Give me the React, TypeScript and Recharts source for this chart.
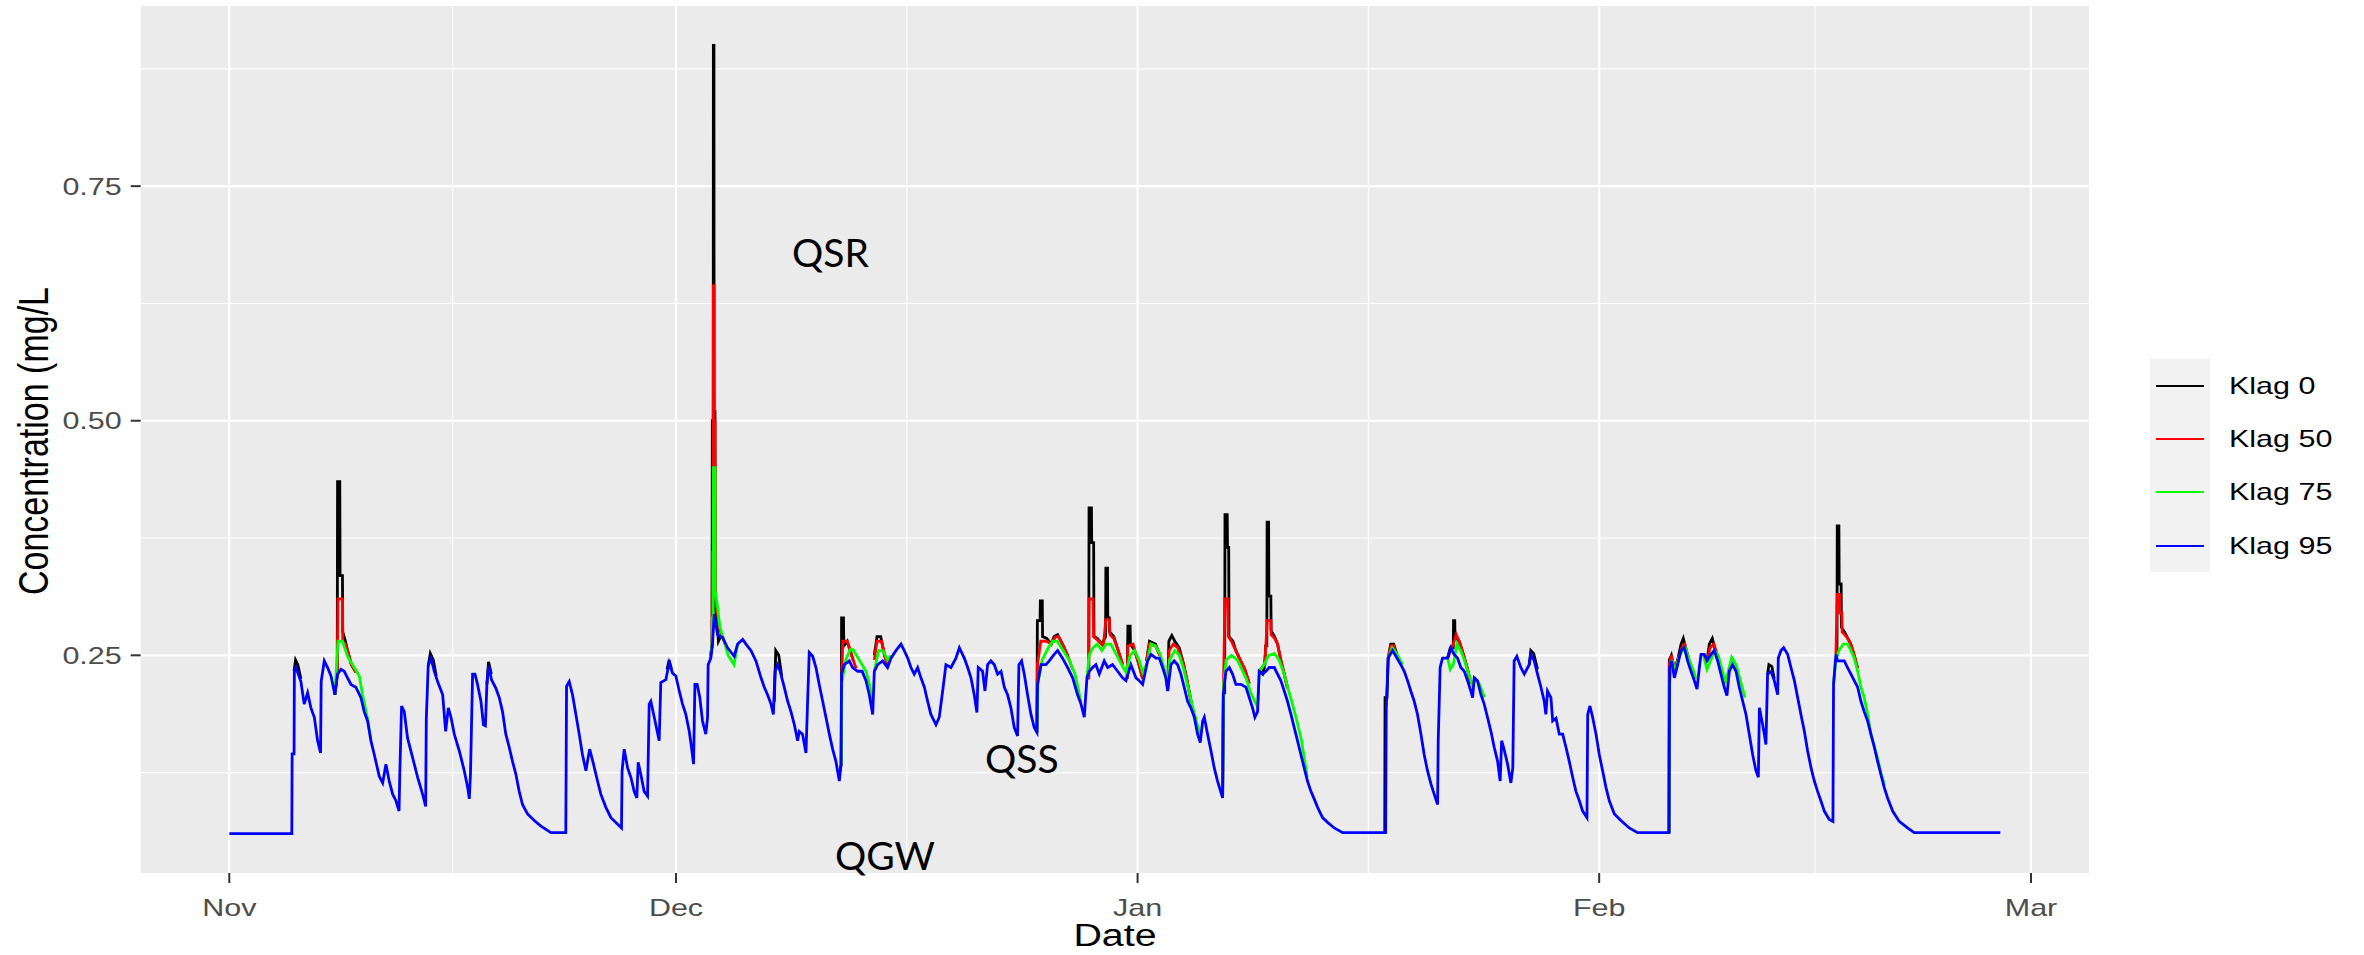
import React from "react";
import {
  LineChart,
  Line,
  XAxis,
  YAxis,
  CartesianGrid,
  Legend,
} from "recharts";

// x = days since 1 Nov, y = concentration (mg/L)
const klag95: [number, number][] = [
  [0, 0.06], [4.2, 0.06], [4.22, 0.145], [4.35, 0.145], [4.37, 0.233], [4.47, 0.237], [4.81, 0.222], [5.03, 0.198],
  [5.26, 0.21], [5.48, 0.194], [5.71, 0.184], [5.93, 0.159], [6.13, 0.146], [6.17, 0.222], [6.38, 0.244], [6.6, 0.237],
  [6.83, 0.228], [7.09, 0.208], [7.27, 0.23], [7.5, 0.235], [7.72, 0.233], [7.94, 0.226], [8.17, 0.219], [8.5, 0.216],
  [8.84, 0.205], [9.06, 0.19], [9.29, 0.18], [9.51, 0.159], [9.74, 0.144], [10.07, 0.121], [10.3, 0.114], [10.52, 0.134],
  [10.74, 0.116], [10.97, 0.102], [11.19, 0.095], [11.4, 0.084], [11.45, 0.123], [11.57, 0.196], [11.75, 0.19], [11.97, 0.162],
  [12.31, 0.141], [12.65, 0.12], [12.98, 0.102], [13.19, 0.089], [13.23, 0.182], [13.36, 0.239], [13.54, 0.247], [13.77, 0.233],
  [13.99, 0.222], [14.33, 0.208], [14.53, 0.169], [14.71, 0.194], [14.89, 0.184], [15.11, 0.166], [15.45, 0.148], [15.78, 0.127],
  [16.01, 0.109], [16.12, 0.097], [16.2, 0.125], [16.34, 0.23], [16.5, 0.23], [16.67, 0.219], [16.9, 0.201], [17.07, 0.176],
  [17.2, 0.175], [17.3, 0.219], [17.41, 0.239], [17.61, 0.224], [17.9, 0.215], [18.13, 0.205], [18.35, 0.19], [18.57, 0.166],
  [18.8, 0.152], [19.02, 0.137], [19.25, 0.123], [19.47, 0.105], [19.69, 0.091], [20.03, 0.081], [20.48, 0.074], [20.93, 0.068],
  [21.6, 0.061], [22.6, 0.061], [22.65, 0.217], [22.83, 0.222], [23.05, 0.208], [23.2, 0.194], [23.5, 0.166], [23.72, 0.144],
  [23.95, 0.127], [24.2, 0.15], [24.46, 0.134], [24.73, 0.116], [24.95, 0.102], [25.29, 0.088], [25.63, 0.077], [26.34, 0.066],
  [26.38, 0.127], [26.52, 0.15], [26.75, 0.13], [26.97, 0.12], [27.19, 0.105], [27.37, 0.098], [27.46, 0.136], [27.64, 0.123],
  [27.86, 0.105], [28.09, 0.1], [28.2, 0.198], [28.31, 0.201], [28.54, 0.184], [28.87, 0.159], [28.98, 0.221], [29.32, 0.224],
  [29.54, 0.242], [29.77, 0.231], [29.99, 0.228], [30.22, 0.212], [30.44, 0.198], [30.66, 0.187], [30.89, 0.169], [31.04, 0.152],
  [31.18, 0.134], [31.27, 0.219], [31.42, 0.219], [31.6, 0.205], [31.78, 0.18], [32.0, 0.166], [32.12, 0.184], [32.16, 0.24],
  [32.34, 0.247], [32.45, 0.262], [32.57, 0.294], [32.79, 0.272], [33.13, 0.269], [33.46, 0.258], [33.91, 0.249], [34.14, 0.262],
  [34.48, 0.267], [34.7, 0.262], [35.04, 0.255], [35.37, 0.244], [35.71, 0.226], [35.93, 0.216], [36.15, 0.208], [36.38, 0.198],
  [36.54, 0.187], [36.65, 0.233], [36.83, 0.24], [36.99, 0.233], [37.27, 0.216], [37.5, 0.201], [37.72, 0.19], [37.95, 0.176],
  [38.17, 0.159], [38.28, 0.169], [38.5, 0.166], [38.73, 0.146], [38.84, 0.201], [38.95, 0.253], [39.18, 0.249], [39.4, 0.237],
  [39.62, 0.219], [39.85, 0.201], [40.07, 0.184], [40.3, 0.166], [40.52, 0.15], [40.74, 0.137], [40.97, 0.116], [41.08, 0.134],
  [41.12, 0.23], [41.3, 0.24], [41.64, 0.244], [41.86, 0.237], [42.2, 0.233], [42.5, 0.233], [42.76, 0.223], [42.98, 0.208],
  [43.21, 0.187], [43.32, 0.233], [43.54, 0.24], [43.88, 0.244], [44.21, 0.237], [44.44, 0.247], [44.77, 0.255], [45.11, 0.262],
  [45.33, 0.255], [45.56, 0.247], [45.78, 0.237], [46.0, 0.23], [46.23, 0.237], [46.45, 0.226], [46.68, 0.216], [46.9, 0.201],
  [47.12, 0.187], [47.46, 0.176], [47.68, 0.184], [47.91, 0.212], [48.13, 0.24], [48.47, 0.237], [48.8, 0.247], [49.03, 0.258],
  [49.36, 0.247], [49.59, 0.237], [49.81, 0.226], [50.03, 0.208], [50.21, 0.189], [50.3, 0.237], [50.59, 0.233], [50.75, 0.212],
  [50.93, 0.24], [51.15, 0.244], [51.38, 0.24], [51.6, 0.23], [51.83, 0.233], [52.05, 0.216], [52.27, 0.208], [52.49, 0.194],
  [52.72, 0.173], [52.94, 0.164], [53.03, 0.24], [53.21, 0.244], [53.39, 0.23], [53.61, 0.208], [53.84, 0.187], [54.06, 0.173],
  [54.24, 0.168], [54.28, 0.219], [54.51, 0.24], [54.84, 0.24], [55.07, 0.244], [55.4, 0.251], [55.63, 0.255], [55.96, 0.247],
  [56.3, 0.237], [56.64, 0.226], [56.97, 0.208], [57.2, 0.198], [57.42, 0.184], [57.6, 0.226], [57.75, 0.233], [57.98, 0.237],
  [58.2, 0.24], [58.43, 0.23], [58.76, 0.244], [58.99, 0.237], [59.32, 0.24], [59.66, 0.233], [59.99, 0.226], [60.22, 0.223],
  [60.55, 0.24], [60.89, 0.226], [61.11, 0.223], [61.34, 0.219], [61.67, 0.244], [61.9, 0.251], [62.23, 0.247], [62.46, 0.247],
  [62.68, 0.237], [62.9, 0.226], [63.02, 0.212], [63.24, 0.24], [63.46, 0.244], [63.69, 0.24], [63.91, 0.23], [64.13, 0.216],
  [64.36, 0.201], [64.58, 0.194], [64.81, 0.184], [65.03, 0.166], [65.21, 0.157], [65.37, 0.18], [65.48, 0.184], [65.7, 0.166],
  [65.93, 0.148], [66.15, 0.13], [66.37, 0.116], [66.71, 0.098], [66.76, 0.208], [66.93, 0.233], [67.16, 0.237], [67.38, 0.23],
  [67.6, 0.219], [67.94, 0.219], [68.28, 0.216], [68.5, 0.205], [68.72, 0.194], [68.88, 0.184], [69.06, 0.19], [69.17, 0.233],
  [69.4, 0.23], [69.62, 0.233], [69.84, 0.237], [70.18, 0.237], [70.4, 0.23], [70.62, 0.223], [70.85, 0.212], [71.07, 0.201],
  [71.3, 0.187], [71.52, 0.173], [71.74, 0.159], [71.97, 0.144], [72.19, 0.13], [72.41, 0.116], [72.64, 0.105], [72.86, 0.097],
  [73.09, 0.088], [73.42, 0.077], [73.76, 0.072], [74.21, 0.066], [74.77, 0.061], [77.66, 0.061], [77.7, 0.194], [77.83, 0.247],
  [78.12, 0.255], [78.35, 0.249], [78.68, 0.24], [78.91, 0.233], [79.13, 0.223], [79.35, 0.212], [79.58, 0.201], [79.8, 0.187],
  [80.03, 0.166], [80.25, 0.144], [80.47, 0.127], [80.7, 0.113], [80.92, 0.102], [81.15, 0.091], [81.19, 0.159], [81.32, 0.237],
  [81.48, 0.247], [81.82, 0.247], [82.04, 0.258], [82.26, 0.251], [82.49, 0.247], [82.71, 0.237], [82.94, 0.233], [83.16, 0.223],
  [83.38, 0.212], [83.5, 0.205], [83.61, 0.226], [83.83, 0.223], [84.06, 0.208], [84.28, 0.198], [84.5, 0.184], [84.73, 0.169],
  [84.95, 0.152], [85.18, 0.137], [85.35, 0.116], [85.45, 0.159], [85.58, 0.152], [85.85, 0.134], [86.07, 0.114], [86.2, 0.13],
  [86.29, 0.244], [86.47, 0.249], [86.74, 0.237], [86.97, 0.23], [87.3, 0.24], [87.41, 0.251], [87.64, 0.244], [87.86, 0.23],
  [88.09, 0.216], [88.31, 0.201], [88.42, 0.187], [88.53, 0.212], [88.76, 0.205], [88.88, 0.18], [89.1, 0.183], [89.32, 0.166],
  [89.55, 0.166], [89.77, 0.152], [89.99, 0.137], [90.22, 0.12], [90.44, 0.105], [90.67, 0.095], [90.89, 0.084], [91.18, 0.077],
  [91.23, 0.187], [91.38, 0.196], [91.56, 0.184], [91.79, 0.166], [92.01, 0.144], [92.23, 0.127], [92.46, 0.109], [92.68, 0.095],
  [93.02, 0.081], [93.46, 0.074], [94.02, 0.066], [94.58, 0.061], [96.69, 0.061], [96.73, 0.237], [96.87, 0.244], [97.05, 0.226],
  [97.27, 0.24], [97.49, 0.255], [97.72, 0.258], [97.94, 0.244], [98.17, 0.233], [98.39, 0.223], [98.57, 0.214], [98.73, 0.237],
  [98.84, 0.251], [99.06, 0.251], [99.24, 0.244], [99.51, 0.251], [99.73, 0.255], [99.96, 0.244], [100.18, 0.23], [100.4, 0.216],
  [100.58, 0.207], [100.74, 0.233], [100.96, 0.24], [101.19, 0.233], [101.41, 0.216], [101.64, 0.201], [101.86, 0.187], [102.08, 0.166],
  [102.31, 0.144], [102.53, 0.127], [102.69, 0.12], [102.76, 0.194], [102.98, 0.176], [103.09, 0.166], [103.2, 0.155], [103.31, 0.23],
  [103.54, 0.233], [103.76, 0.223], [103.99, 0.208], [104.03, 0.247], [104.21, 0.255], [104.39, 0.258], [104.66, 0.251], [104.88, 0.237],
  [105.11, 0.223], [105.33, 0.205], [105.55, 0.187], [105.78, 0.169], [106.0, 0.148], [106.23, 0.13], [106.45, 0.116], [106.67, 0.105],
  [106.89, 0.095], [107.12, 0.084], [107.45, 0.075], [107.7, 0.073], [107.74, 0.219], [107.9, 0.251], [108.01, 0.244], [108.46, 0.244],
  [108.68, 0.237], [108.91, 0.23], [109.13, 0.223], [109.36, 0.216], [109.58, 0.201], [109.8, 0.19], [110.03, 0.18], [110.25, 0.166],
  [110.48, 0.152], [110.7, 0.137], [110.92, 0.123], [111.15, 0.109], [111.37, 0.098], [111.71, 0.084], [112.15, 0.073], [112.71, 0.066],
  [113.16, 0.061], [118.94, 0.061],
];

// the other lags only leave Klag 95 around storm events
const klag75Events: [number, number][][] = [
  [[7.09, 0.208], [7.3, 0.265], [7.6, 0.265], [7.75, 0.258], [7.94, 0.249], [8.39, 0.237], [8.73, 0.228], [8.95, 0.208], [9.29, 0.182], [9.51, 0.16]],
  [[32.3, 0.247], [32.42, 0.26], [32.44, 0.29], [32.5, 0.29], [32.51, 0.45], [32.62, 0.45], [32.63, 0.32], [32.8, 0.3], [32.95, 0.28], [33.15, 0.27], [33.5, 0.25], [33.9, 0.24], [34.14, 0.262]],
  [[41.1, 0.134], [41.13, 0.22], [41.4, 0.245], [41.7, 0.256], [41.9, 0.256], [42.2, 0.248], [42.5, 0.24], [42.76, 0.233], [42.98, 0.22], [43.21, 0.2]],
  [[43.32, 0.233], [43.6, 0.255], [43.9, 0.255], [44.21, 0.245], [44.44, 0.25]],
  [[54.24, 0.168], [54.3, 0.22], [54.6, 0.245], [55.0, 0.258], [55.3, 0.265], [55.6, 0.265], [56.0, 0.255], [56.4, 0.245], [56.8, 0.23], [57.0, 0.215], [57.2, 0.2]],
  [[57.6, 0.226], [57.74, 0.25], [58.0, 0.258], [58.3, 0.262], [58.6, 0.255], [58.9, 0.262], [59.2, 0.262], [59.6, 0.25], [60.0, 0.238], [60.22, 0.232],
   [60.5, 0.25], [60.8, 0.255], [61.1, 0.245], [61.34, 0.232], [61.6, 0.24], [61.9, 0.262], [62.2, 0.26], [62.5, 0.252], [62.8, 0.235], [63.02, 0.215],
   [63.15, 0.245], [63.5, 0.255], [63.8, 0.25], [64.1, 0.235], [64.4, 0.215], [64.7, 0.195], [65.03, 0.175], [65.21, 0.165]],
  [[66.71, 0.098], [66.78, 0.22], [66.95, 0.245], [67.3, 0.25], [67.7, 0.245], [68.0, 0.235], [68.3, 0.225], [68.6, 0.21], [68.9, 0.2], [69.06, 0.195],
   [69.17, 0.233], [69.5, 0.24], [69.8, 0.25], [70.2, 0.252], [70.5, 0.245], [70.8, 0.232], [71.1, 0.215], [71.4, 0.198], [71.7, 0.18], [72.0, 0.16], [72.2, 0.14], [72.4, 0.12]],
  [[77.83, 0.247], [78.1, 0.258], [78.4, 0.252], [78.8, 0.24]],
  [[81.82, 0.247], [82.0, 0.235], [82.2, 0.24], [82.45, 0.262], [82.7, 0.255], [82.94, 0.245], [83.2, 0.232], [83.5, 0.218], [83.7, 0.225], [84.0, 0.218], [84.3, 0.205]],
  [[96.69, 0.061], [96.73, 0.22], [96.9, 0.245], [97.1, 0.232], [97.35, 0.248], [97.6, 0.255], [97.8, 0.258], [98.05, 0.245], [98.3, 0.235], [98.5, 0.225]],
  [[99.0, 0.25], [99.24, 0.235], [99.5, 0.245], [99.75, 0.255], [100.0, 0.25], [100.25, 0.235], [100.5, 0.22], [100.7, 0.235], [100.9, 0.248], [101.2, 0.24], [101.5, 0.222], [101.8, 0.205]],
  [[107.74, 0.219], [107.9, 0.245], [108.1, 0.255], [108.4, 0.262], [108.7, 0.262], [108.91, 0.255], [109.13, 0.247], [109.36, 0.233], [109.58, 0.216], [109.8, 0.205],
   [110.03, 0.187], [110.25, 0.166], [110.48, 0.153], [110.7, 0.14], [110.92, 0.125], [111.15, 0.112]],
];

const klag50Events: [number, number][][] = [
  [[7.09, 0.208], [7.25, 0.23], [7.3, 0.31], [7.6, 0.31], [7.62, 0.265], [7.8, 0.262], [8.0, 0.252], [8.2, 0.24], [8.5, 0.232]],
  [[32.3, 0.247], [32.42, 0.26], [32.44, 0.36], [32.5, 0.36], [32.51, 0.644], [32.55, 0.644], [32.56, 0.5], [32.62, 0.5], [32.63, 0.32], [32.75, 0.3], [32.9, 0.28], [33.1, 0.27], [33.3, 0.262]],
  [[41.1, 0.134], [41.12, 0.22], [41.2, 0.265], [41.5, 0.265], [41.7, 0.255], [41.9, 0.245], [42.1, 0.236]],
  [[43.32, 0.245], [43.5, 0.265], [43.8, 0.265], [44.1, 0.245], [44.3, 0.24]],
  [[54.24, 0.168], [54.27, 0.24], [54.5, 0.265], [54.9, 0.265], [55.2, 0.262], [55.5, 0.27], [55.7, 0.27], [56.0, 0.26], [56.3, 0.25], [56.64, 0.235]],
  [[57.6, 0.226], [57.72, 0.226], [57.74, 0.31], [58.0, 0.31], [58.05, 0.27], [58.4, 0.265], [58.7, 0.26], [58.87, 0.288], [59.1, 0.288], [59.15, 0.272], [59.4, 0.268], [59.7, 0.255], [60.0, 0.24]],
  [[60.3, 0.225], [60.35, 0.26], [60.7, 0.262], [61.0, 0.245], [61.34, 0.225]],
  [[61.6, 0.244], [61.8, 0.262], [62.2, 0.26], [62.5, 0.25]],
  [[63.02, 0.212], [63.12, 0.255], [63.4, 0.262], [63.7, 0.258], [64.0, 0.245], [64.3, 0.225], [64.6, 0.2]],
  [[66.71, 0.098], [66.76, 0.21], [66.87, 0.31], [67.05, 0.31], [67.1, 0.27], [67.3, 0.265], [67.6, 0.255], [67.9, 0.245], [68.2, 0.235], [68.5, 0.22]],
  [[69.17, 0.233], [69.5, 0.24], [69.6, 0.255], [69.7, 0.287], [69.95, 0.287], [69.97, 0.272], [70.2, 0.268], [70.4, 0.262], [70.62, 0.245], [70.85, 0.23], [71.07, 0.215]],
  [[77.83, 0.247], [78.0, 0.26], [78.2, 0.26], [78.4, 0.25]],
  [[81.82, 0.247], [82.2, 0.262], [82.4, 0.272], [82.6, 0.265], [82.9, 0.25], [83.16, 0.235], [83.38, 0.22]],
  [[96.69, 0.061], [96.71, 0.24], [96.85, 0.25], [97.05, 0.235], [97.3, 0.245], [97.55, 0.258], [97.75, 0.262], [97.95, 0.25], [98.17, 0.238]],
  [[99.24, 0.244], [99.45, 0.258], [99.7, 0.262], [99.95, 0.25], [100.2, 0.235], [100.4, 0.22]],
  [[107.9, 0.251], [107.99, 0.315], [108.15, 0.315], [108.17, 0.295], [108.3, 0.295], [108.32, 0.275], [108.6, 0.27], [108.9, 0.262], [109.13, 0.25], [109.36, 0.236]],
];

const klag0Events: [number, number][][] = [
  [[4.35, 0.233], [4.45, 0.245], [4.6, 0.24], [4.81, 0.225]],
  [[7.09, 0.208], [7.25, 0.23], [7.27, 0.435], [7.42, 0.435], [7.44, 0.335], [7.6, 0.335], [7.62, 0.275], [7.8, 0.265], [7.94, 0.255], [8.2, 0.24], [8.5, 0.232]],
  [[13.36, 0.239], [13.5, 0.252], [13.7, 0.245], [13.9, 0.228]],
  [[17.3, 0.219], [17.41, 0.243], [17.6, 0.23]],
  [[29.4, 0.235], [29.54, 0.245], [29.7, 0.235]],
  [[32.3, 0.247], [32.42, 0.26], [32.44, 0.5], [32.5, 0.5], [32.51, 0.9], [32.55, 0.9], [32.56, 0.51], [32.62, 0.51], [32.63, 0.3], [32.75, 0.29], [32.85, 0.265], [33.0, 0.27], [33.2, 0.27]],
  [[36.6, 0.2], [36.7, 0.255], [36.9, 0.25], [37.1, 0.228]],
  [[41.0, 0.125], [41.1, 0.134], [41.12, 0.29], [41.25, 0.29], [41.27, 0.26], [41.5, 0.265], [41.7, 0.255], [41.9, 0.245]],
  [[43.32, 0.25], [43.5, 0.27], [43.75, 0.27], [44.0, 0.25], [44.21, 0.24]],
  [[54.24, 0.168], [54.27, 0.287], [54.45, 0.287], [54.47, 0.308], [54.6, 0.308], [54.62, 0.27], [54.9, 0.268], [55.2, 0.262], [55.4, 0.27], [55.63, 0.272], [55.96, 0.262], [56.3, 0.25]],
  [[57.6, 0.226], [57.72, 0.226], [57.74, 0.407], [57.9, 0.407], [57.92, 0.37], [58.05, 0.37], [58.07, 0.27], [58.3, 0.268], [58.6, 0.262], [58.85, 0.27],
   [58.87, 0.343], [58.98, 0.343], [59.0, 0.29], [59.1, 0.29], [59.12, 0.275], [59.4, 0.27], [59.7, 0.255], [60.0, 0.24]],
  [[60.3, 0.225], [60.35, 0.281], [60.5, 0.281], [60.52, 0.262], [60.8, 0.255], [61.1, 0.24], [61.34, 0.225]],
  [[61.6, 0.244], [61.8, 0.265], [62.2, 0.262], [62.5, 0.25]],
  [[63.02, 0.212], [63.1, 0.265], [63.3, 0.271], [63.5, 0.265], [63.8, 0.258], [64.1, 0.24], [64.36, 0.22], [64.6, 0.2]],
  [[66.71, 0.098], [66.76, 0.21], [66.85, 0.21], [66.87, 0.4], [67.02, 0.4], [67.04, 0.365], [67.12, 0.365], [67.14, 0.27], [67.4, 0.265], [67.6, 0.255], [67.9, 0.245], [68.2, 0.235], [68.5, 0.22]],
  [[69.17, 0.233], [69.4, 0.23], [69.55, 0.24], [69.6, 0.26], [69.68, 0.26], [69.7, 0.392], [69.8, 0.392], [69.82, 0.313], [69.95, 0.313], [69.97, 0.276], [70.2, 0.27], [70.4, 0.262], [70.62, 0.245], [70.85, 0.23], [71.07, 0.215]],
  [[77.6, 0.061], [77.62, 0.205], [77.75, 0.205], [77.83, 0.247], [78.0, 0.262], [78.2, 0.262], [78.4, 0.252]],
  [[81.82, 0.247], [82.0, 0.258], [82.2, 0.258], [82.22, 0.287], [82.3, 0.287], [82.32, 0.27], [82.6, 0.265], [82.9, 0.25], [83.16, 0.235], [83.38, 0.22]],
  [[87.3, 0.24], [87.41, 0.255], [87.6, 0.252], [87.86, 0.235]],
  [[96.69, 0.061], [96.71, 0.245], [96.85, 0.25], [97.05, 0.235], [97.27, 0.245], [97.5, 0.262], [97.65, 0.268], [97.85, 0.255], [98.1, 0.24]],
  [[99.24, 0.244], [99.4, 0.262], [99.6, 0.268], [99.8, 0.255], [100.0, 0.245], [100.18, 0.232]],
  [[103.31, 0.23], [103.4, 0.24], [103.6, 0.238], [103.76, 0.225]],
  [[107.9, 0.251], [107.97, 0.251], [107.99, 0.388], [108.1, 0.388], [108.12, 0.326], [108.25, 0.326], [108.27, 0.28], [108.5, 0.274], [108.7, 0.268], [108.9, 0.262], [109.13, 0.25], [109.36, 0.236]],
];

const seriesNames = ["Klag 0", "Klag 50", "Klag 75", "Klag 95"];
const seriesColors = ["#000000", "#FF0000", "#00FF00", "#0000FF"];

const monthTicks = [0, 30, 61, 92, 121];
const monthLabels = ["Nov", "Dec", "Jan", "Feb", "Mar"];
const monthMinor = [15, 45.5, 76.5, 106.5];
const yTicks = [0.25, 0.5, 0.75];
const yMinor = [0.125, 0.375, 0.625, 0.875];

type Row = { x: number; y: number | null };

const toRows = (pts: [number, number][]): Row[] => pts.map(([x, y]) => ({ x, y }));

// join event windows, with a null point between them so the line breaks
const joinEvents = (events: [number, number][][]): Row[] =>
  events.flatMap((ev, i) => {
    if (i === 0) return toRows(ev);
    const prevEnd = events[i - 1][events[i - 1].length - 1][0];
    return [{ x: (prevEnd + ev[0][0]) / 2, y: null }, ...toRows(ev)];
  });

const seriesData: Row[][] = [
  joinEvents(klag0Events),
  joinEvents(klag50Events),
  joinEvents(klag75Events),
  toRows(klag95),
];

const FONT = "'Liberation Sans', Arial, sans-serif";
const SX = 1.27; // the source image is stretched sideways
const TICK_FONT = 24;

function XTick({ x, payload }: any) {
  const i = monthTicks.indexOf(payload.value);
  return (
    <text
      transform={`translate(${x},916) scale(${SX},1)`}
      textAnchor="middle"
      fontSize={TICK_FONT}
      fontFamily={FONT}
      fill="#4D4D4D"
    >
      {monthLabels[i]}
    </text>
  );
}

function YTick({ x, y, payload }: any) {
  return (
    <text
      transform={`translate(${x},${y + TICK_FONT * 0.36}) scale(${SX},1)`}
      textAnchor="end"
      fontSize={TICK_FONT}
      fontFamily={FONT}
      fill="#4D4D4D"
    >
      {payload.value.toFixed(2)}
    </text>
  );
}

function YTitle() {
  return (
    <text
      transform={`translate(48,441) scale(${SX},1) rotate(-90)`}
      textAnchor="middle"
      fontSize={34}
      fontFamily={FONT}
      fill="#000"
    >
      Concentration (mg/L
    </text>
  );
}

function XTitle() {
  return (
    <text
      transform={`translate(1115,946) scale(${SX},1)`}
      textAnchor="middle"
      fontSize={31}
      fontFamily={FONT}
      fill="#000"
    >
      Date
    </text>
  );
}

function LegendBox() {
  return (
    <div style={{ display: "flex", alignItems: "stretch" }}>
      <div style={{ width: 60, background: "#F2F2F2" }}>
        {seriesNames.map((n, i) => (
          <div key={n} style={{ height: 53.3, display: "flex", alignItems: "center", justifyContent: "center" }}>
            <div style={{ width: 48, height: 2, background: seriesColors[i] }} />
          </div>
        ))}
      </div>
      <div style={{ marginLeft: 19 }}>
        {seriesNames.map((n) => (
          <div
            key={n}
            style={{
              height: 53.3,
              display: "flex",
              alignItems: "center",
              fontFamily: FONT,
              fontSize: TICK_FONT,
              color: "#000",
              transform: `scaleX(${SX})`,
              transformOrigin: "left center",
              whiteSpace: "nowrap",
            }}
          >
            {n}
          </div>
        ))}
      </div>
    </div>
  );
}

const notes = [
  { text: "QSR", x: 792, y: 267 },
  { text: "QSS", x: 985, y: 773 },
  { text: "QGW", x: 835, y: 870 },
];

export default function App() {
  return (
    <div style={{ position: "absolute", left: 0, top: 0, width: 2364, height: 955, background: "#fff" }}>
      <LineChart width={2364} height={955} margin={{ top: 6, right: 275.1, bottom: 0, left: 0 }}>
        <CartesianGrid
          fill="#EBEBEB"
          stroke="#FFFFFF"
          strokeWidth={1.1}
          horizontalValues={yMinor}
          verticalValues={monthMinor}
        />
        <CartesianGrid
          stroke="#FFFFFF"
          strokeWidth={2.2}
          horizontalValues={yTicks}
          verticalValues={monthTicks}
        />
        <XAxis
          type="number"
          dataKey="x"
          domain={[-5.95, 124.89]}
          allowDataOverflow
          ticks={monthTicks}
          interval={0}
          height={82}
          axisLine={false}
          tickSize={10}
          tickLine={{ stroke: "#333333", strokeWidth: 2 }}
          tick={<XTick />}
          label={<XTitle />}
        />
        <YAxis
          type="number"
          dataKey="y"
          domain={[0.018, 0.942]}
          allowDataOverflow
          ticks={yTicks}
          interval={0}
          width={140.7}
          axisLine={false}
          tickSize={10}
          tickMargin={9}
          tickLine={{ stroke: "#333333", strokeWidth: 2 }}
          tick={<YTick />}
          label={<YTitle />}
        />
        {seriesData.map((rows, i) => (
          <Line
            key={seriesNames[i]}
            data={rows}
            dataKey="y"
            name={seriesNames[i]}
            type="linear"
            stroke={seriesColors[i]}
            strokeWidth={2.8}
            dot={false}
            activeDot={false}
            connectNulls={false}
            isAnimationActive={false}
          />
        ))}
        <Legend
          layout="horizontal"
          verticalAlign="middle"
          align="center"
          wrapperStyle={{ left: 2150, top: 359, width: "auto" }}
          content={() => <LegendBox />}
        />
      </LineChart>
      <svg width={2364} height={955} style={{ position: "absolute", left: 0, top: 0, pointerEvents: "none" }}>
        {notes.map((n) => (
          <text key={n.text} x={n.x} y={n.y} fontFamily="Lato, 'Open Sans', sans-serif" fontSize={39} fill="#000">
            {n.text}
          </text>
        ))}
      </svg>
    </div>
  );
}
